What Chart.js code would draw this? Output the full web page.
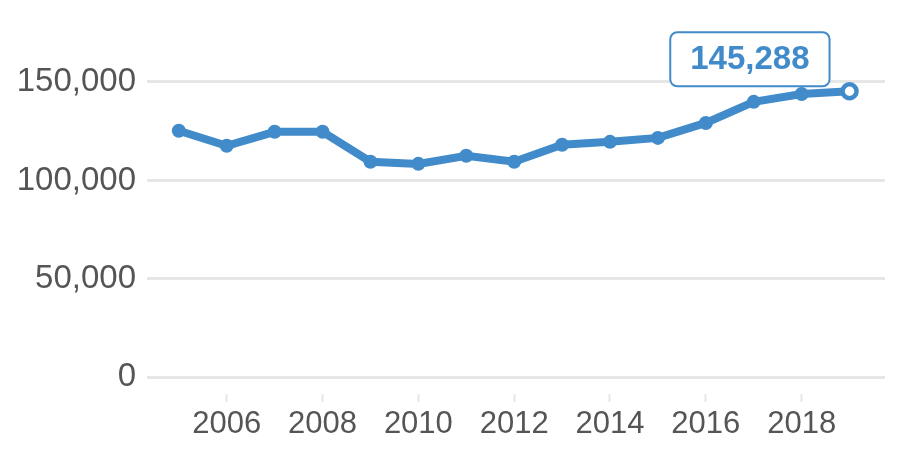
<!DOCTYPE html>
<html lang="en">
<head>
    <meta charset="UTF-8">
    <title>Line chart</title>
    <script src="https://cdn.jsdelivr.net/npm/chart.js"></script>
    <style>
        html, body { margin: 0; padding: 0; background: #fff; }
        .grafico-container { width: 900px; height: 450px; }
    </style>
</head>
<body>
    <div class="grafico-container">
        <canvas id="meuGrafico"></canvas>
    </div>

<script>
    // Dados
    const anos = [2005, 2006, 2007, 2008, 2009, 2010, 2011, 2012, 2013, 2014, 2015, 2016, 2017, 2018, 2019];
    const valores = [125200, 117600, 124700, 124700, 109500, 108400, 112500, 109500, 118100, 119600, 121600, 129200, 139900, 143900, 145288];
    const ticksY = [0, 50000, 100000, 150000];
    const ticksX = [2006, 2008, 2010, 2012, 2014, 2016, 2018];

    const azul = "rgb(66, 139, 202)";
    const cinzaTexto = "#555555";
    const cinzaGrade = "#e6e6e6";
    const ultimo = valores.length - 1;

    // Caixa com o último valor
    const rotuloUltimo = {
        id: "rotuloUltimo",
        afterDatasetsDraw(chart) {
            const ctx = chart.ctx;
            const ponto = chart.getDatasetMeta(0).data[ultimo];
            const texto = valores[ultimo].toLocaleString("en-US");
            ctx.save();
            ctx.font = "bold 33px 'Liberation Sans', Arial, sans-serif";
            const larg = ctx.measureText(texto).width + 40;
            const alt = 54;
            const x = ponto.x - 20 - larg;
            const y = ponto.y - 5 - alt;
            ctx.beginPath();
            ctx.roundRect(x, y, larg, alt, 7);
            ctx.fillStyle = "#ffffff";
            ctx.fill();
            ctx.lineWidth = 2;
            ctx.strokeStyle = azul;
            ctx.stroke();
            ctx.fillStyle = azul;
            ctx.textAlign = "center";
            ctx.textBaseline = "middle";
            ctx.fillText(texto, x + larg / 2, y + alt / 2 + 1);
            ctx.restore();
        }
    };

    const ctx = document.getElementById("meuGrafico").getContext("2d");
    new Chart(ctx, {
        type: "line",
        data: {
            datasets: [{
                data: anos.map((a, i) => ({ x: a, y: valores[i] })),
                borderColor: azul,
                borderWidth: 8,
                tension: 0,
                pointRadius: 7,
                pointBorderWidth: c => c.dataIndex === ultimo ? 4.5 : 0,
                pointBackgroundColor: c => c.dataIndex === ultimo ? "#ffffff" : azul,
                pointBorderColor: azul
            }]
        },
        options: {
            responsive: true,
            maintainAspectRatio: false,
            animation: false,
            layout: { padding: { top: 30, right: 15, left: 0, bottom: 0 } },
            plugins: {
                legend: { display: false },
                tooltip: { enabled: false }
            },
            scales: {
                x: {
                    type: "linear",
                    min: 2004.336,
                    max: 2019.74,
                    afterBuildTicks: s => { s.ticks = ticksX.map(v => ({ value: v })); },
                    afterFit: s => { s.height = 56; },
                    border: { display: false },
                    grid: {
                        drawOnChartArea: false,
                        drawTicks: true,
                        tickLength: 8,
                        tickWidth: 2,
                        tickColor: cinzaGrade
                    },
                    ticks: {
                        color: cinzaTexto,
                        padding: 4,
                        font: { family: "'Liberation Sans', Arial, sans-serif", size: 31 },
                        callback: v => String(v)
                    }
                },
                y: {
                    min: -8500,
                    max: 176000,
                    afterBuildTicks: s => { s.ticks = ticksY.map(v => ({ value: v })); },
                    afterFit: s => { s.width = 147; },
                    border: { display: false },
                    grid: { color: cinzaGrade, lineWidth: 3, drawTicks: false },
                    ticks: {
                        color: cinzaTexto,
                        padding: 11,
                        font: { family: "'Liberation Sans', Arial, sans-serif", size: 33 },
                        callback: v => v.toLocaleString("en-US")
                    }
                }
            }
        },
        plugins: [rotuloUltimo]
    });
</script>
</body>
</html>
